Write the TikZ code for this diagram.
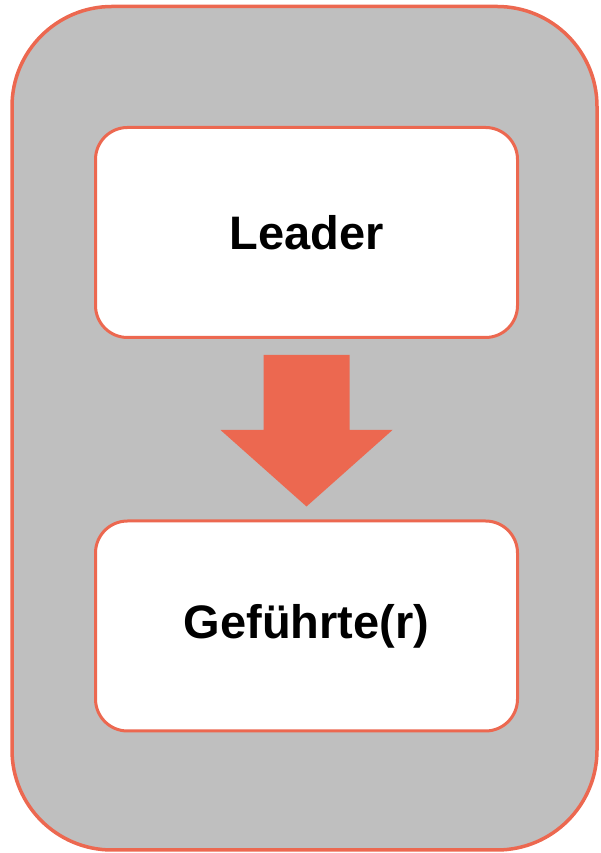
\documentclass[tikz,border=0pt]{standalone}
\usepackage{fontspec}
\setmainfont{Liberation Sans}
\usepackage{tikz}
\usetikzlibrary{calc}
\definecolor{ldrorange}{HTML}{EC6850}
\definecolor{ldrgray}{HTML}{BFBFBF}

\begin{document}
\begin{tikzpicture}[x=1pt,y=1pt,
  rolebox/.style={draw=ldrorange, line width=3pt, fill=white,
    rounded corners=32pt, minimum width=422pt, minimum height=210pt,
    font=\fontsize{47}{56}\selectfont\bfseries}]
  \useasboundingbox (0,0) rectangle (600,853);
  \draw[ldrorange, fill=ldrgray, line width=3.5pt, rounded corners=100pt]
    (12,3) rectangle (597,846.5);
  \node[rolebox] (leader) at (306.5,620.5) {Leader};
  \node[rolebox] (follower) at (306.5,227) {Geführte(r)};
  % block arrow between the two boxes
  \coordinate (arrtop) at ($(leader.south)+(0,-16)$);
  \coordinate (arrtip) at ($(follower.north)+(0,13)$);
  \fill[ldrorange] ($(arrtop)+(-43,0)$) -- ($(arrtop)+(43,0)$)
    -- ($(arrtop)+(43,-75)$) -- ($(arrtop)+(86,-75)$) -- (arrtip)
    -- ($(arrtop)+(-86,-75)$) -- ($(arrtop)+(-43,-75)$) -- cycle;
\end{tikzpicture}
\end{document}
